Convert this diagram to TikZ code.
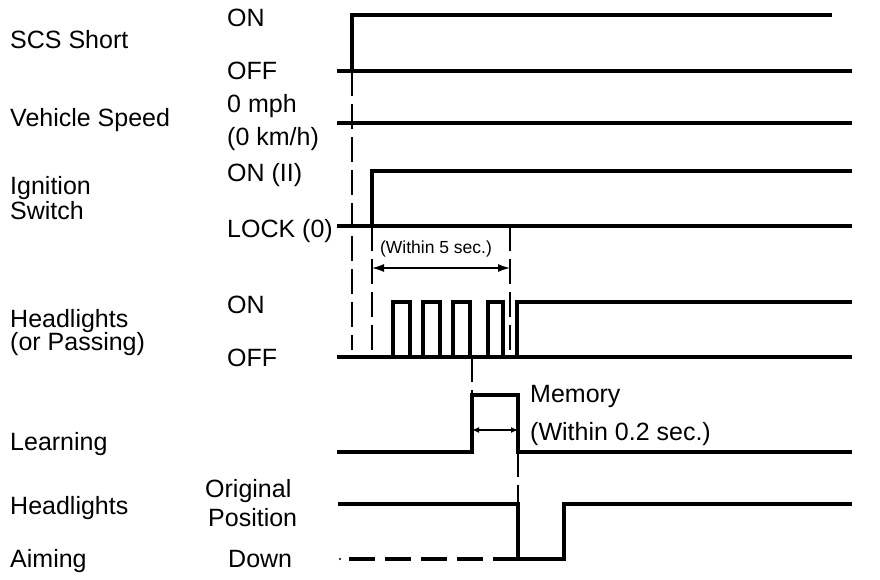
\documentclass[tikz,border=0pt]{standalone}
\usepackage{fontspec}
\setmainfont{Liberation Sans}
\usetikzlibrary{arrows.meta, positioning, calc}

\tikzset{
  lbl/.style={anchor=base west, inner sep=0pt, font=\fontsize{25}{28}\selectfont},
  note/.style={inner sep=0pt, font=\fontsize{17.5}{20}\selectfont},
  sig/.style={line width=4pt, line join=miter},
  guide/.style={line width=1.3pt, dash pattern=on 25pt off 8pt},
  dim/.style={line width=1.3pt, {Latex[length=12pt,width=8pt]}-{Latex[length=12pt,width=8pt]}},
  dimsmall/.style={line width=1.3pt, {Latex[length=7pt,width=6pt]}-{Latex[length=7pt,width=6pt]}}
}

\begin{document}
\begin{tikzpicture}[x=1pt, y=-1pt]
  \useasboundingbox (0,0) rectangle (880,580);

  % signal names
  \node[lbl] (scs)    at (10,49)  {SCS Short};
  \node[lbl] (speed)  at (10,127) {Vehicle Speed};
  \node[lbl] (ign)    at (10,194) {Ignition};
  \node[lbl] (ignb)   at (10,219) {Switch};
  \node[lbl] (hl)     at (10,327) {Headlights};
  \node[lbl] (hlb)    at (10,350) {(or Passing)};
  \node[lbl] (learn)  at (10,450) {Learning};
  \node[lbl] (aim)    at (10,514) {Headlights};
  \node[lbl] (aimb)   at (10,567) {Aiming};

  % states
  \node[lbl] (scson)  at (227,27)  {ON};
  \node[lbl] (scsoff) at (227,80)  {OFF};
  \node[lbl] (spd)    at (227,113) {0 mph};
  \node[lbl] (spdb)   at (227,146) {(0 km/h)};
  \node[lbl] (ignon)  at (227,182) {ON (II)};
  \node[lbl] (ignoff) at (227,237) {LOCK (0)};
  \node[lbl] (hlon)   at (227,313) {ON};
  \node[lbl] (hloff)  at (227,366) {OFF};
  \node[lbl] (orig)   at (205,497) {Original};
  \node[lbl] (origb)  at (208,526) {Position};
  \node[lbl] (down)   at (228,567) {Down};

  % waveforms
  \draw[sig] (337,71) -- (852,71);
  \draw[sig] (352,71) -- (352,15) -- (832,15);
  \draw[sig] (337,123) -- (852,123);
  \draw[sig] (337,226) -- (852,226);
  \draw[sig] (372,226) -- (372,171) -- (852,171);
  \draw[sig] (337,357) -- (852,357);
  \foreach \a/\b in {393/410, 423/440, 453/470, 488/503}
    \draw[sig] (\a,357) -- (\a,302) -- (\b,302) -- (\b,357);
  \draw[sig] (517,357) -- (517,302) -- (852,302);
  \draw[sig] (337,452) -- (472,452) -- (472,395) -- (518,395) -- (518,452) -- (852,452);
  \draw[sig] (338,504) -- (518,504) -- (518,559) -- (564,559) -- (564,504) -- (852,504);
  \draw[sig, dash pattern=on 26pt off 10pt] (349,559) -- (518,559);
  \fill (340,559) circle (1.2pt);

  % timing guides
  \draw[guide] (352,71) -- (352,350);
  \draw[guide] (372,226) -- (372,357);
  \draw[guide] (510,226) -- (510,357);
  \draw[guide] (472,357) -- (472,395);
  \draw[guide] (518,452) -- (518,504);

  % intervals
  \coordinate (w5a) at (372,268);
  \coordinate (w5b) at (510,268);
  \draw[dim] (w5a) -- (w5b);
  \node[note] (w5) at (436,249) {(Within 5 sec.)};
  \coordinate (m1) at (472,430);
  \coordinate (m2) at (518,430);
  \draw[dimsmall] (m1) -- (m2);
  \node[lbl] (mem)  at (530,402) {Memory};
  \node[lbl] (memb) at (530,440) {(Within 0.2 sec.)};
\end{tikzpicture}
\end{document}
